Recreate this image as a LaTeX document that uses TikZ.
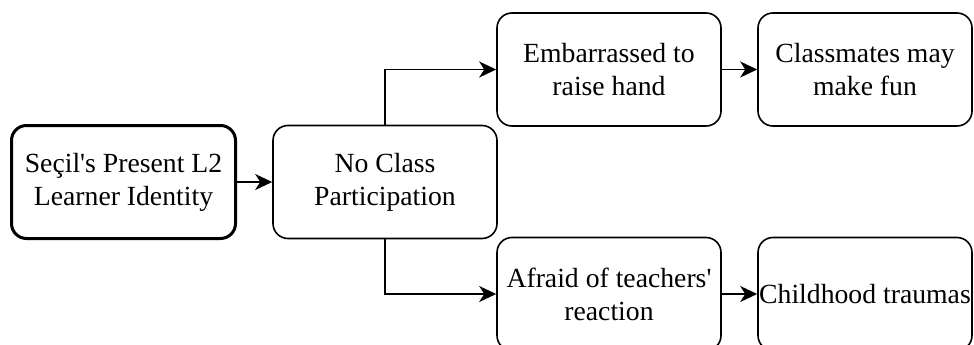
\documentclass[tikz,border=0pt]{standalone}
\usepackage{fontspec}
\setmainfont{Liberation Serif}
\usetikzlibrary{arrows.meta}
\begin{document}
\begin{tikzpicture}[x=1pt,y=-1pt,
  box/.style={draw, line width=1.6pt, rounded corners=15pt, align=center,
    minimum width=224pt, minimum height=113pt, inner sep=0pt,
    font=\fontsize{27.7}{33}\selectfont},
  boldbox/.style={box, line width=3pt},
  link/.style={line width=1.8pt, -{Stealth[length=17pt,width=16pt,inset=5pt]}}]
  \useasboundingbox (0,0) rectangle (974,345);
  % boxes
  \node[boldbox] (self) at (123.5,182) {Seçil\textquotesingle s Present L2\\Learner Identity};
  \node[box] (nopart) at (385,182) {No Class\\Participation};
  \node[box] (embar) at (609,69.5) {Embarrassed to\\raise hand};
  \node[box, minimum width=214pt] (fun) at (865,69.5) {Classmates may\\make fun};
  \node[box] (afraid) at (609,294) {Afraid of teachers\textquotesingle\\reaction};
  \node[box, minimum width=214pt] (trauma) at (865,294) {Childhood traumas};
  % connectors
  \draw[link] (self) -- (nopart);
  \draw[link] (nopart.north) |- (embar.west);
  \draw[link] (nopart.south) |- (afraid.west);
  \draw[link] (embar) -- (fun);
  \draw[link] (afraid) -- (trauma);
\end{tikzpicture}
\end{document}
